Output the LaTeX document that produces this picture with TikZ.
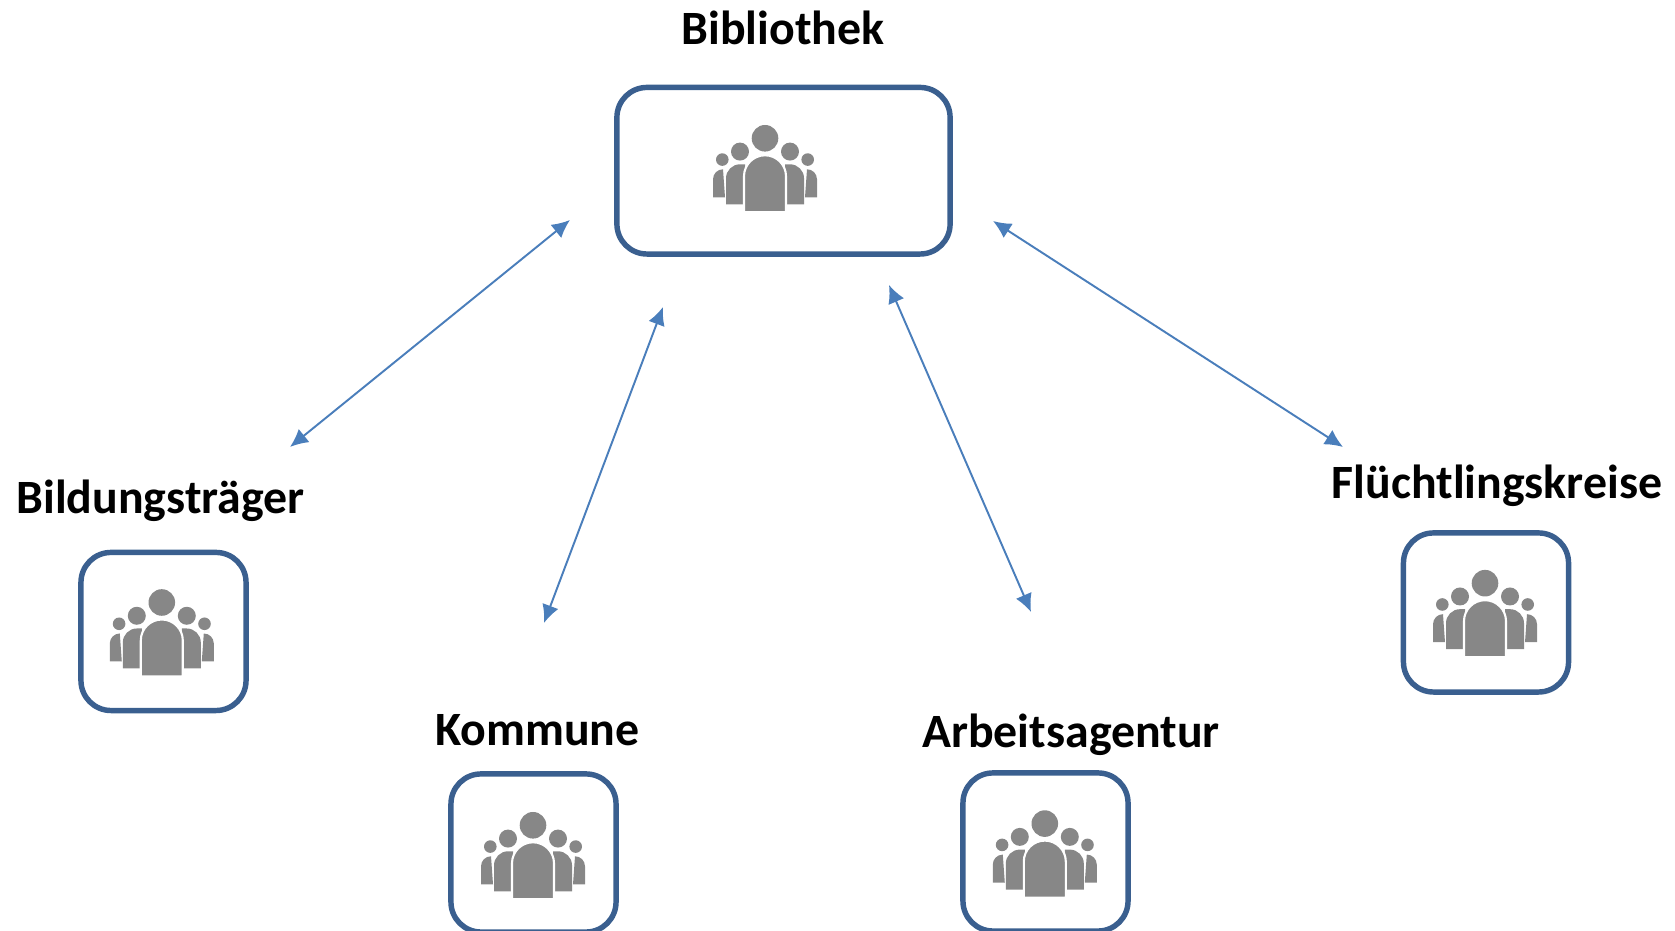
\documentclass[tikz,border=0pt]{standalone}
\usepackage{fontspec}
\setmainfont{Carlito}
\usepackage{tikz}
\usetikzlibrary{arrows.meta}
\definecolor{boxblue}{HTML}{3A5F8F}
\definecolor{arrowblue}{HTML}{4A7EBB}
\definecolor{icongray}{HTML}{878787}
\tikzset{
  groupbox/.style={shape=rectangle,draw=boxblue,line width=1.55pt,rounded corners=0.3cm,inner sep=0pt},
  grouplabel/.style={shape=rectangle,inner sep=0pt,font=\fontsize{13.6}{15}\selectfont\bfseries},
  linkarrow/.style={draw=arrowblue,line width=0.55pt,{Latex[length=1.8mm,width=1.7mm]}-{Latex[length=1.8mm,width=1.7mm]}}
}
\newcommand{\peopleicon}[2]{ \fill[icongray] ( #1 , #2 ) circle (13.3); \fill[icongray] ( #1 - 25 , #2 - 13.3 ) circle (9); \fill[icongray] ( #1 + 25 , #2 - 13.3 ) circle (9); \fill[icongray] ( #1 - 42.7 , #2 - 21.3 ) circle (6.3); \fill[icongray] ( #1 + 42.7 , #2 - 21.3 ) circle (6.3); \fill[icongray] ( #1 - 52 , #2 - 59 ) -- ( #1 - 52 , #2 - 41 ) arc[start angle=180,end angle=90,radius=10] -- ( #1 - 40 , #2 - 59 ) -- cycle; \fill[icongray] ( #1 + 52 , #2 - 59 ) -- ( #1 + 52 , #2 - 41 ) arc[start angle=0,end angle=90,radius=10] -- ( #1 + 40 , #2 - 59 ) -- cycle; \fill[icongray] ( #1 - 39 , #2 - 66 ) -- ( #1 - 39 , #2 - 40 ) arc[start angle=180,end angle=90,radius=14] -- ( #1 - 20 , #2 - 26 ) -- ( #1 - 20 , #2 - 66 ) -- cycle; \fill[icongray] ( #1 + 39 , #2 - 66 ) -- ( #1 + 39 , #2 - 40 ) arc[start angle=0,end angle=90,radius=14] -- ( #1 + 20 , #2 - 26 ) -- ( #1 + 20 , #2 - 66 ) -- cycle; \filldraw[fill=icongray,draw=white,line width=0.6pt] ( #1 - 21 , #2 - 74 ) -- ( #1 - 21 , #2 - 38 ) arc[start angle=180,end angle=0,radius=21] -- ( #1 + 21 , #2 - 74 ) -- cycle;}

\begin{document}
\begin{tikzpicture}[x=0.01cm,y=0.01cm]
        \useasboundingbox ( 0 , 0 ) rectangle ( 1675 , 931 );

        % boxes
        \node[groupbox,minimum width=3.33cm,minimum height=1.665cm] (bib) at ( 783.5 , 760.25 ){};
        \node[groupbox,minimum width=1.65cm,minimum height=1.58cm] (bil) at ( 163.5 , 299.5 ){};
        \node[groupbox,minimum width=1.65cm,minimum height=1.58cm] (kom) at ( 533.5 , 78 ){};
        \node[groupbox,minimum width=1.65cm,minimum height=1.58cm] (arb) at ( 1045.5 , 79 ){};
        \node[groupbox,minimum width=1.65cm,minimum height=1.59cm] (flu) at ( 1486 , 318.5 ){};

        % icons
        \peopleicon{765}{792.7}
        \peopleicon{161.8}{328.5}
        \peopleicon{533}{105.7}
        \peopleicon{1044.8}{107.4}
        \peopleicon{1485}{347.8}

        % text
        \node[grouplabel] (biblabel) at ( 783 , 903 ){Bibliothek};
        \node[grouplabel] (billabel) at ( 160.5 , 430 ){Bildungsträger};
        \node[grouplabel] (komlabel) at ( 537.5 , 201 ){Kommune};
        \node[grouplabel] (arblabel) at ( 1071 , 196 ){Arbeitsagentur};
        \node[grouplabel] (flulabel) at ( 1497 , 445 ){Flüchtlingskreise};

        % arrows
        \coordinate (bibA) at ( 570 , 711 );
        \coordinate (bilA) at ( 290 , 484 );
        \coordinate (bibB) at ( 663 , 624 );
        \coordinate (komA) at ( 544 , 308 );
        \coordinate (bibC) at ( 889 , 646 );
        \coordinate (arbA) at ( 1031 , 319 );
        \coordinate (bibD) at ( 993 , 710 );
        \coordinate (fluA) at ( 1343 , 484 );
        \draw[linkarrow] (bibA) -- (bilA);
        \draw[linkarrow] (bibB) -- (komA);
        \draw[linkarrow] (bibC) -- (arbA);
        \draw[linkarrow] (bibD) -- (fluA);
    \end{tikzpicture}
\end{document}
